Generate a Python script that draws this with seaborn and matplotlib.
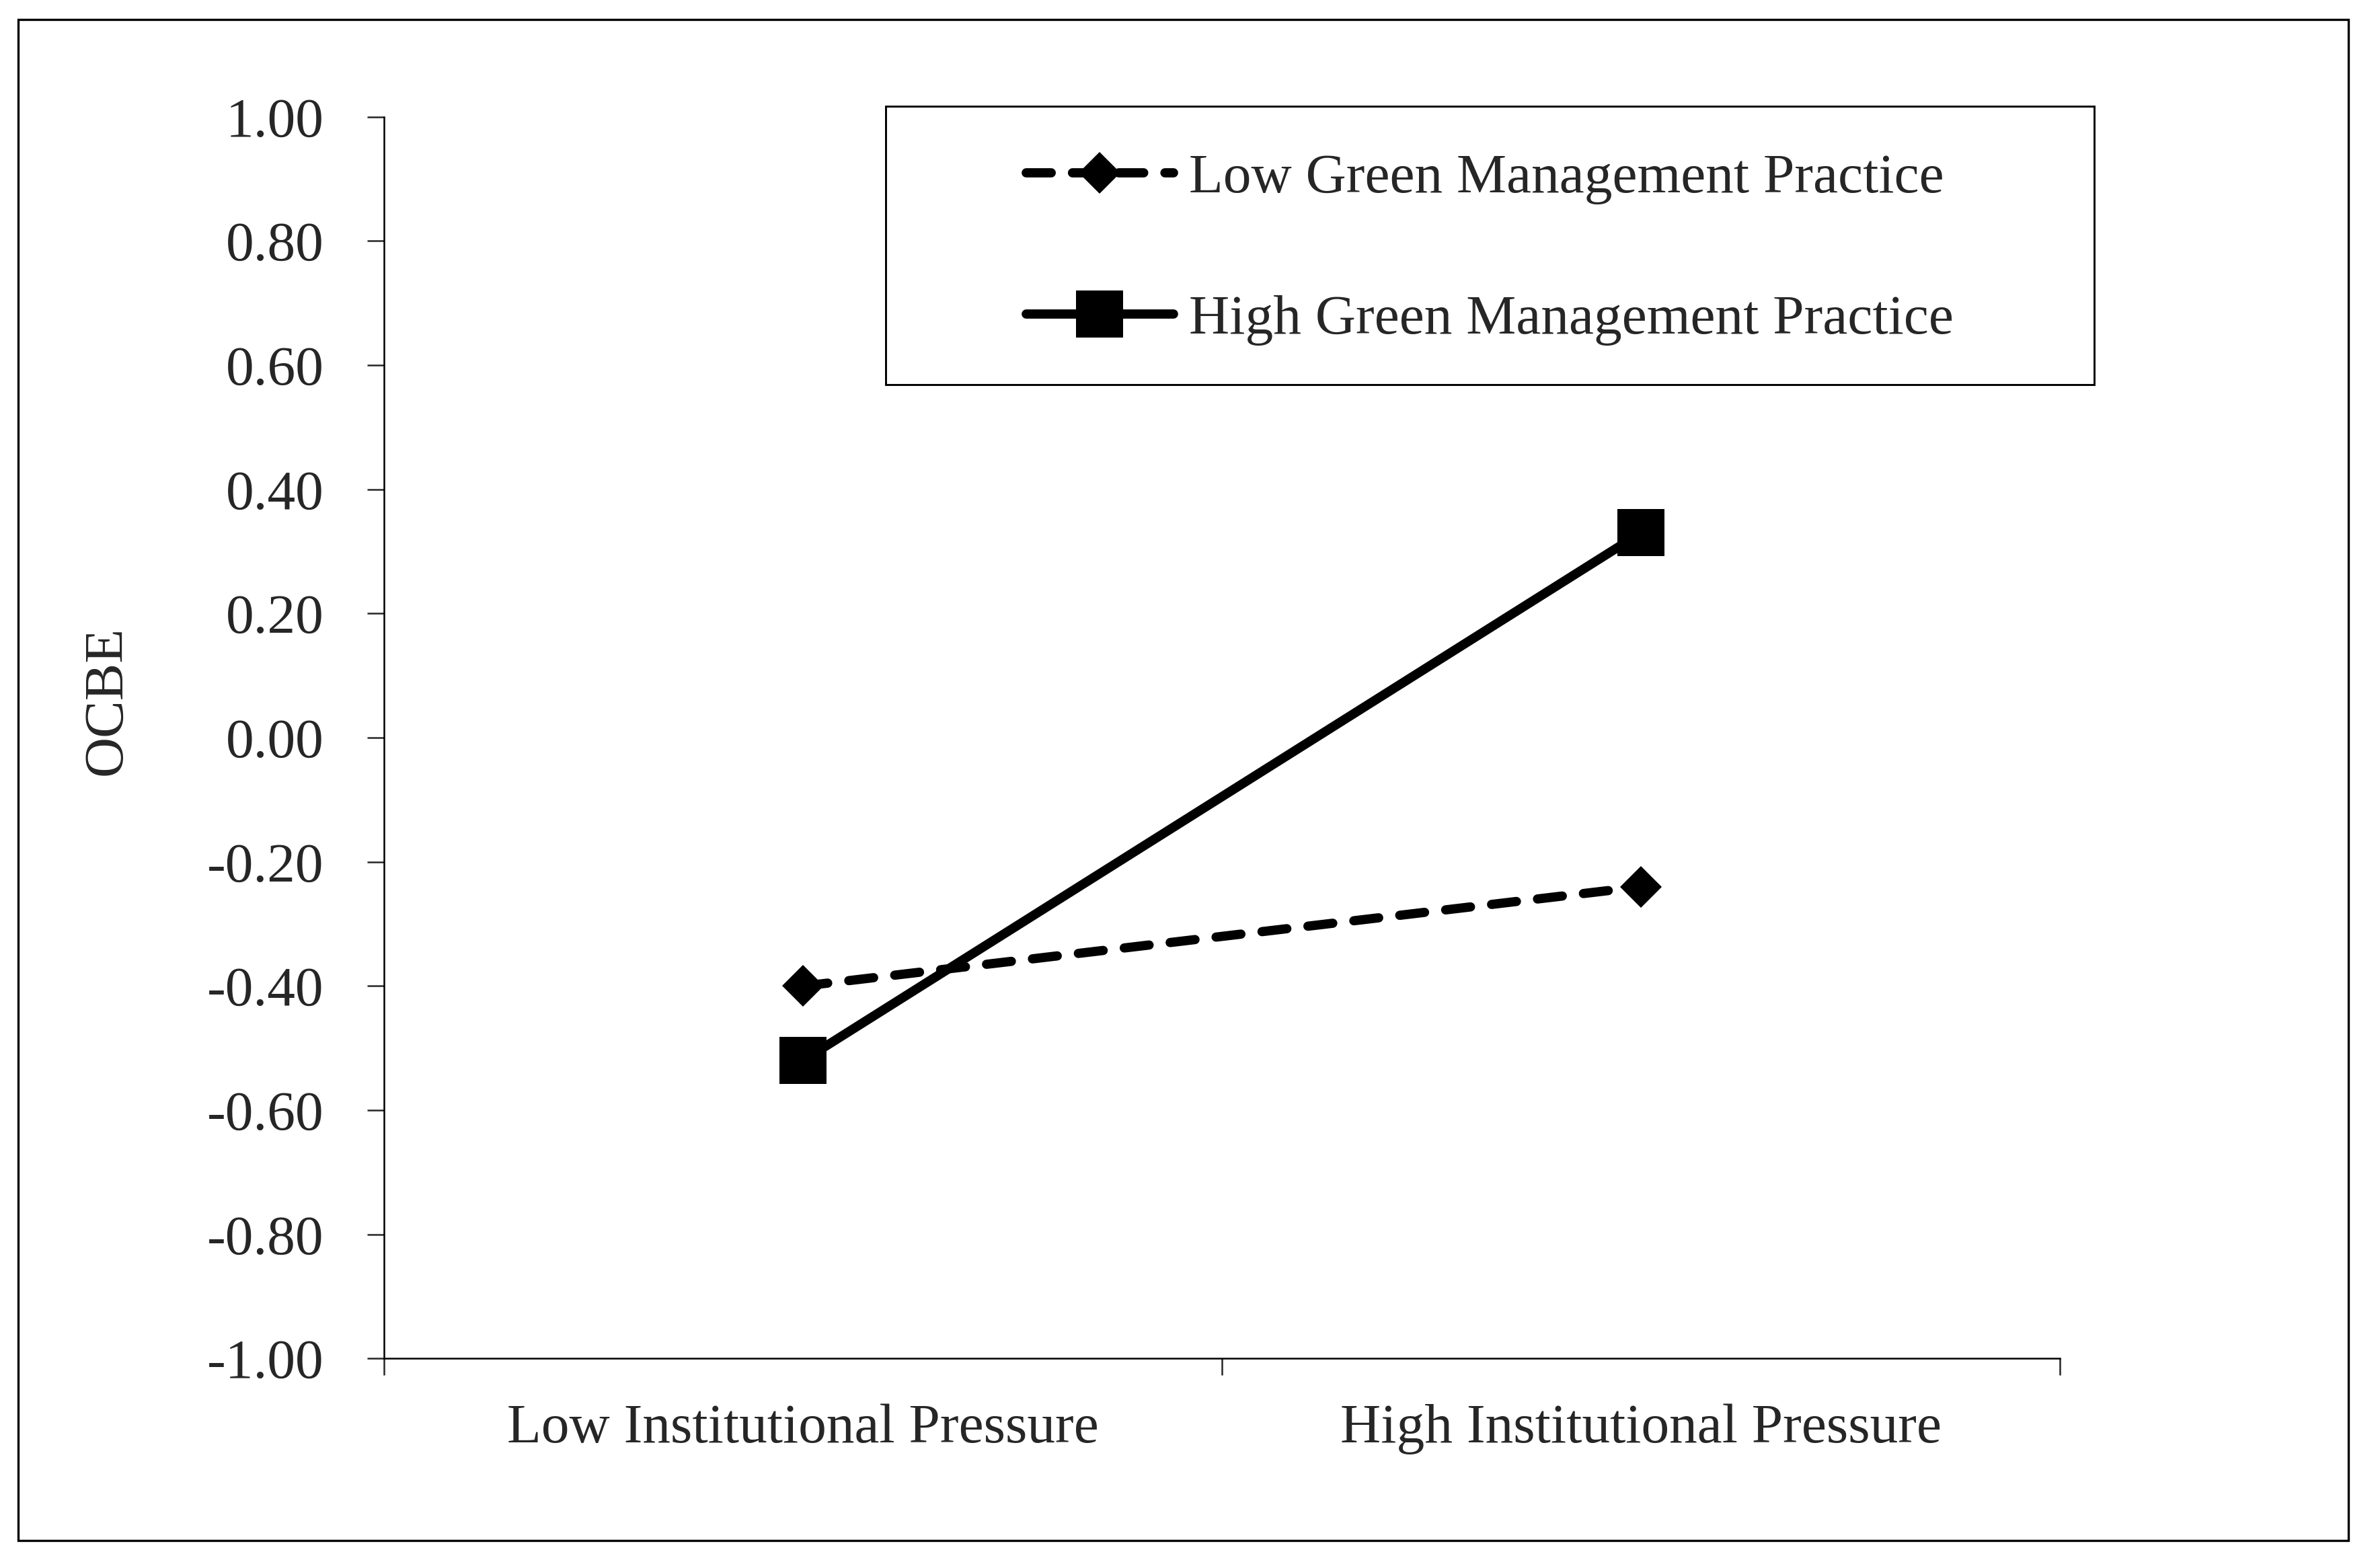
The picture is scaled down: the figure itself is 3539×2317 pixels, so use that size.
import pandas as pd
import seaborn as sns
import matplotlib.pyplot as plt
from matplotlib.patches import Rectangle

# data
pressure = ["Low Institutional Pressure", "High Institutional Pressure"]
low_gmp = [-0.40, -0.24]
high_gmp = [-0.52, 0.33]
series_names = ["Low Green Management Practice", "High Green Management Practice"]
y_ticks = [-1.0, -0.8, -0.6, -0.4, -0.2, 0.0, 0.2, 0.4, 0.6, 0.8, 1.0]

sns.set_style("white")
plt.rcParams["font.family"] = ["Liberation Serif", "DejaVu Serif"]
plt.rcParams["axes.unicode_minus"] = False

FS = 20
LW = 3.3

df = pd.DataFrame({
    "pos": [i + 0.5 for i in range(len(pressure))] * 2,
    "ocbe": low_gmp + high_gmp,
    "series": [series_names[0]] * len(pressure) + [series_names[1]] * len(pressure),
})

fig = plt.figure(figsize=(3539 / 300, 2317 / 300), dpi=300)
ax = fig.add_axes([0.1613, 0.128, 0.7042, 0.797])

sns.lineplot(data=df[df.series == series_names[0]], x="pos", y="ocbe", ax=ax,
             color="black", linewidth=LW, linestyle=(0, (2.7, 2.3)),
             dash_capstyle="round", marker="D", markersize=10.5,
             markeredgewidth=0, label=series_names[0], legend=False)
sns.lineplot(data=df[df.series == series_names[1]], x="pos", y="ocbe", ax=ax,
             color="black", linewidth=LW, solid_capstyle="round",
             marker="s", markersize=17, markeredgewidth=0,
             label=series_names[1], legend=False)

ax.set_xlim(0, len(pressure))
ax.set_ylim(-1.0, 1.0)
ax.set_xticks(range(len(pressure) + 1))
ax.set_xticklabels([])
ax.set_xticks([i + 0.5 for i in range(len(pressure))], minor=True)
ax.set_xticklabels(pressure, minor=True, fontsize=FS)
ax.tick_params(axis="x", which="minor", length=0, pad=16)
ax.tick_params(axis="x", which="major", direction="out", length=6, width=0.6, bottom=True)
ax.set_yticks(y_ticks)
ax.set_yticklabels([f"{v:.2f}" for v in y_ticks], fontsize=FS)
ax.tick_params(axis="y", direction="out", length=6, width=0.6, pad=15.5, left=True)

for s in ["top", "right"]:
    ax.spines[s].set_visible(False)
for s in ["left", "bottom"]:
    ax.spines[s].set_linewidth(0.6)
    ax.spines[s].set_color("black")

ax.set_xlabel("")
ax.set_ylabel("OCBE", fontsize=FS)
ax.yaxis.set_label_coords(-0.150, 0.53)

# legend box drawn separately so the entries can sit centred inside it
fig.patches.append(Rectangle((0.372, 0.753), 0.508, 0.179, transform=fig.transFigure,
                             fill=False, edgecolor="black", linewidth=0.7))
handles, labels = ax.get_legend_handles_labels()
fig.legend(handles, labels, loc="center", bbox_to_anchor=(0.626, 0.840),
           frameon=False, fontsize=FS, handlelength=2.63, handletextpad=0.28,
           labelspacing=1.6, borderpad=0)

# outer frame around the whole figure
fig.patches.append(Rectangle((0.0076, 0.0112), 0.9791, 0.9763, transform=fig.transFigure,
                             fill=False, edgecolor="black", linewidth=0.8))

fig.savefig("out.png", dpi=300, facecolor="white")
